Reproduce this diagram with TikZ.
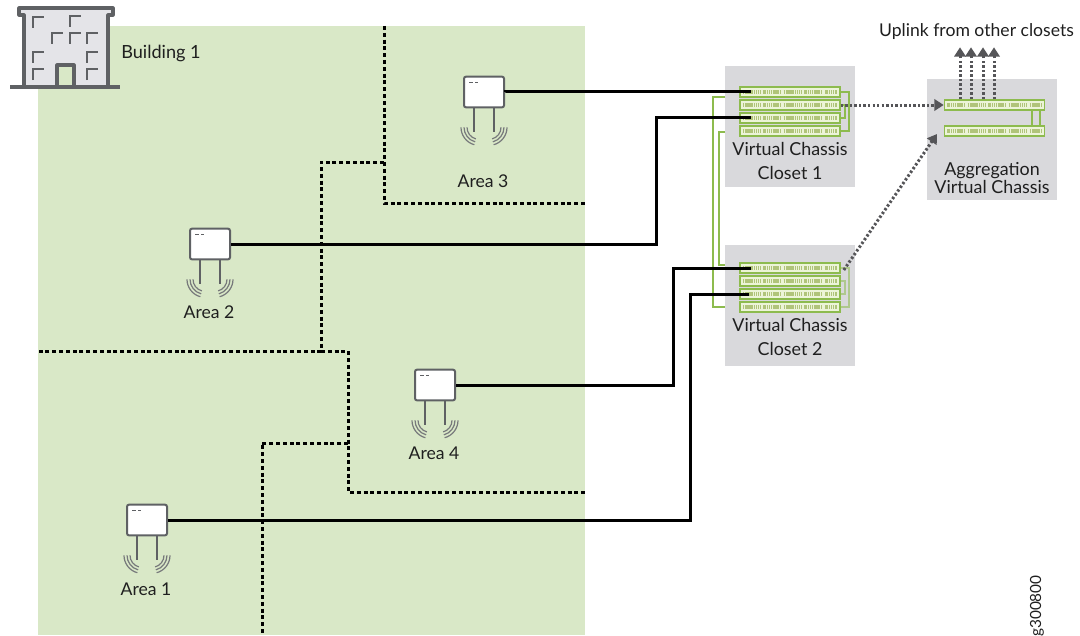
\documentclass[tikz,border=0pt]{standalone}
\usepackage{fontspec}
\setmainfont{Lato}
\usetikzlibrary{calc,arrows.meta}
\definecolor{AreaGreen}{RGB}{217,232,199}
\definecolor{ClosetGrey}{RGB}{217,217,220}
\definecolor{LinkGreen}{RGB}{141,187,78}
\definecolor{PortGreen}{RGB}{176,196,122}
\definecolor{SwitchFill}{RGB}{236,244,216}
\definecolor{IconGrey}{RGB}{95,97,100}
\definecolor{WallGrey}{RGB}{228,228,232}
\definecolor{ArrowGrey}{RGB}{85,85,88}
\tikzset{
  areatext/.style={font=\fontsize{13.2}{15}\selectfont,text=black!88,inner sep=0pt},
  closetbox/.style={fill=ClosetGrey,draw=none,minimum width=97.5pt,inner sep=0pt},
  switchunit/.style={draw=LinkGreen,fill=SwitchFill,line width=1.2pt,minimum width=75pt,minimum height=7.4pt,inner sep=0pt},
  ports/.style={PortGreen,line width=3.4pt,dash pattern=on 1pt off 0.4pt},
  stacklink/.style={LinkGreen,line width=1.3pt},
  bracket/.style={LinkGreen,line width=2.2pt},
  aplink/.style={black,line width=2.25pt},
  areaborder/.style={black,line width=2.25pt,dash pattern=on 3pt off 2.1pt},
  uplink/.style={ArrowGrey,line width=2.25pt,dash pattern=on 1.8pt off 1.6pt,-{Triangle[length=7pt,width=8.5pt]}},
  apbox/.style={draw=IconGrey,fill=white,line width=1.5pt,rounded corners=1.5pt,minimum width=30pt,minimum height=23pt,inner sep=0pt},
  wave/.style={IconGrey!85,line width=0.9pt},
}
\begin{document}
\begin{tikzpicture}[x=0.75pt,y=-0.75pt]
  \useasboundingbox (0,0) rectangle (1080,635);
  % floor and closets
  \fill[AreaGreen] (38,26) rectangle (585,635);
  \node[closetbox,minimum height=90.75pt] (closet1) at (790,126.5) {};
  \node[closetbox,minimum height=90.75pt] (closet2) at (790,305.5) {};
  \node[closetbox,minimum height=90.75pt] (aggbox) at (992,139.5) {};

  % area borders
  \draw[areaborder] (384,26) -- (384,203) -- (585,203);
  \draw[areaborder] (384,162) -- (321,162) -- (321,351) -- (38,351);
  \draw[areaborder] (321,351) -- (348,351) -- (348,492) -- (585,492);
  \draw[areaborder] (348,443) -- (262,443) -- (262,635);

  % building
  \draw[IconGrey,line width=2.3pt,fill=WallGrey,line join=round]
    (24,87) -- (24,15) -- (19,15) -- (19,8) -- (113,8) -- (113,15) -- (108,15) -- (108,87)
    -- (74,87) -- (74,65) -- (57,65) -- (57,87) -- cycle;
  \draw[IconGrey,line width=2.3pt] (10,87) -- (120,87);
  \foreach \wx/\wy in {33/17,70/16,52/33,70/33,87/33,33/52,87/52,33/69,87/69}
    \draw[IconGrey,line width=1.6pt] (\wx,\wy+11) -- (\wx,\wy) -- (\wx+11,\wy);
  \node[areatext,anchor=west,font=\fontsize{13.6}{15}\selectfont] (building) at (121,53) {Building 1};

  % access points
  \foreach \apname/\apx/\apy/\lbly/\lbl in {ap3/484/92/181/Area 3,ap2/210/244/312/Area 2,ap4/435/385/453/Area 4,ap1/147/520/589/Area 1}{
    \node[apbox] (\apname) at (\apx,\apy) {};
    \draw[IconGrey,line width=1.1pt] ($(\apname.south)+(-10,0)$) -- ++(0,24);
    \draw[IconGrey,line width=1.1pt] ($(\apname.south)+(10,0)$) -- ++(0,24);
    \draw[IconGrey,line width=1.2pt,dash pattern=on 3.2pt off 1.6pt] ($(\apname.north west)+(6,7)$) -- ++(9,0);
    \foreach \r in {12,15,18}{
      \draw[wave] ($(\apname.south)+(-5,19)+(-\r,0)$) arc[start angle=180,end angle=105,radius=\r];
      \draw[wave] ($(\apname.south)+(5,19)+(\r,0)$) arc[start angle=0,end angle=75,radius=\r];
    }
    \node[areatext] at (\apx-1,\lbly) {\lbl};
  }

  % switches
  \foreach \sw/\swx/\swy in {c1a/790/92,c1b/790/105,c1c/790/118,c1d/790/131,
                             c2a/790/268,c2b/790/281,c2c/790/294,c2d/790/307,
                             aga/994.5/105,agb/994.5/131}{
    \node[switchunit] (\sw) at (\swx,\swy) {};
    \foreach \gx in {3.5,24,44.5,65}
      \draw[ports] ($(\sw.west)+(\gx,0)$) -- ++(18,0);
    \draw[ports] ($(\sw.west)+(86,0)$) -- ++(12,0);
  }

  % stack links
  \draw[stacklink] (c1a.east) -- ++(8,0) |- (c1d.east);
  \draw[stacklink] (c1b.east) -- ++(4,0) |- (c1c.east);
  \draw[stacklink,opacity=0.55] (c2a.east) -- ++(8,0) |- (c2d.east);
  \draw[stacklink,opacity=0.55] (c2b.east) -- ++(4,0) |- (c2c.east);
  \draw[stacklink] ($(aga.south east)+(-13.5,0)$) -- ($(agb.north east)+(-13.5,0)$);
  \draw[stacklink] ($(aga.south east)+(-5.5,0)$) -- ($(agb.north east)+(-5.5,0)$);

  % brackets between closets
  \coordinate (brk1a) at (725,97);
  \coordinate (brk1b) at (725,132);
  \coordinate (brk2a) at (725,265);
  \coordinate (brk2b) at (725,307);
  \draw[bracket] (brk1a) -| (713,307) -- (brk2b);
  \draw[bracket] (brk1b) -| (719,265) -- (brk2a);

  % access links
  \draw[aplink] (ap3.east) -- (505,91) -- ($(c1a.west)+(12,-1)$);
  \coordinate (riser2) at (656,117);
  \coordinate (riser4) at (673,268);
  \coordinate (riser1) at (690,294);
  \draw[aplink] (ap2.east) -| (riser2) -- ($(c1c.west)+(12,-1)$);
  \draw[aplink] (ap4.east) -| (riser4) -- ($(c2a.west)+(12,0)$);
  \draw[aplink] (ap1.east) -| (riser1) -- ($(c2c.west)+(10,0)$);

  % uplinks
  \draw[uplink] (c1b.east) -- (aga.west);
  \coordinate (aggin) at (937,134);
  \draw[uplink] ($(c2a.east)+(3,2)$) -- (aggin);
  \foreach \ux in {-34.5,-23.5,-11.5,-0.5}
    \draw[uplink] ($(aga.north)+(\ux,0)$) -- ++(0,-52);

  % labels
  \node[areatext] (uplinktxt) at (976.5,32) {Uplink from other closets};
  \node[areatext,align=center,font=\fontsize{13.4}{18}\selectfont] (closet1txt) at (790,161) {Virtual Chassis\\Closet 1};
  \node[areatext,align=center,font=\fontsize{13.4}{18}\selectfont] (closet2txt) at (790,337) {Virtual Chassis\\Closet 2};
  \node[areatext,align=center,font=\fontsize{13.4}{13.5}\selectfont] (aggtxt) at (992,178) {Aggregation\\Virtual Chassis};
  \node[areatext,rotate=90,font=\fontsize{11.5}{12}\selectfont] (figid) at (1037,606) {g300800};
\end{tikzpicture}
\end{document}
